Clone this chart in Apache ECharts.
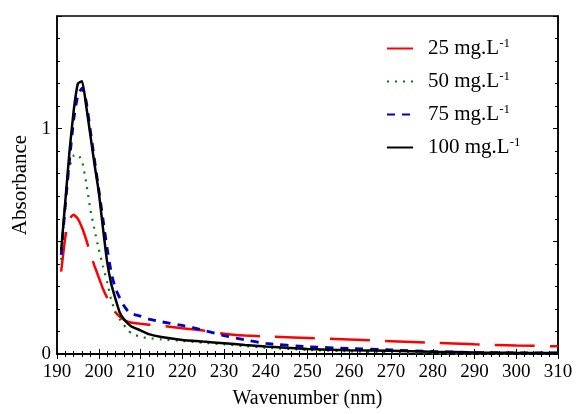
<!DOCTYPE html>
<html>
<head>
<meta charset="utf-8">
<script src="https://cdn.jsdelivr.net/npm/echarts@6/dist/echarts.min.js"></script>
<style>
  html, body { margin: 0; padding: 0; background: #fff; }
  #chart { width: 576px; height: 414px; }
</style>
</head>
<body>
<div id="chart"></div>
<script>
// wavelength grid (nm)
const wl = [191, 192, 193, 194, 195, 196, 197, 198, 199, 200, 201, 202, 203, 204, 205, 206, 207, 208, 210, 212, 215, 220, 225, 230, 235, 240, 250, 260, 270, 280, 290, 300, 310]

// absorbance per concentration (mg/L)
const abs25 = [0.366, 0.52, 0.60, 0.618, 0.60, 0.56, 0.507, 0.445, 0.39, 0.34, 0.29, 0.25, 0.215, 0.185, 0.166, 0.152, 0.143, 0.139, 0.134, 0.13, 0.125, 0.114, 0.104, 0.09, 0.082, 0.078, 0.071, 0.064, 0.057, 0.05, 0.043, 0.038, 0.034]
const abs50 = [0.418, 0.68, 0.83, 0.88, 0.885, 0.855, 0.76, 0.64, 0.55, 0.465, 0.39, 0.32, 0.24, 0.185, 0.155, 0.13, 0.105, 0.09, 0.076, 0.07, 0.065, 0.058, 0.05, 0.043, 0.035, 0.028, 0.018, 0.012, 0.007, 0.002, 0, 0, 0]
const abs75 = [0.44, 0.66, 0.86, 1.04, 1.15, 1.18, 1.12, 0.99, 0.86, 0.73, 0.6, 0.47, 0.36, 0.29, 0.25, 0.215, 0.19, 0.178, 0.168, 0.155, 0.143, 0.127, 0.106, 0.082, 0.063, 0.047, 0.032, 0.025, 0.018, 0.011, 0.007, 0.005, 0.005]
const abs100 = [0.46, 0.68, 0.9, 1.08, 1.2, 1.21, 1.1, 0.97, 0.84, 0.72, 0.56, 0.41, 0.31, 0.245, 0.185, 0.155, 0.135, 0.12, 0.105, 0.088, 0.075, 0.062, 0.055, 0.048, 0.04, 0.033, 0.022, 0.017, 0.014, 0.01, 0.007, 0.005, 0.004]

const names = ['25', '50', '75', '100']
const colors = ['#ff0000', '#008000', '#0000cc', '#000000']
const dashes = [[40, 15], [2, 6], [8, 7], 'solid']
const widths = [2.5, 2.2, 2.8, 2.5]
const values = [abs25, abs50, abs75, abs100]

const xTicks = [190, 200, 210, 220, 230, 240, 250, 260, 270, 280, 290, 300, 310]

let myChart = echarts.init(document.getElementById('chart'))

const font = 'Liberation Serif'

const series = names.map((n, i) => ({
  name: n,
  type: 'line',
  symbol: 'none',
  smooth: 0.15,
  data: wl.map((x, k) => [x, values[i][k]]),
  lineStyle: { color: colors[i], width: widths[i], type: dashes[i] },
  itemStyle: { color: colors[i] }
}))

const option = {
  backgroundColor: '#ffffff',
  animation: false,
  grid: {
    left: 57,
    right: 18,
    top: 16,
    bottom: 60,
    show: true,
    borderColor: '#000',
    borderWidth: 1.5
  },
  legend: {
    orient: 'vertical',
    left: 386,
    top: 37,
    padding: 0,
    itemWidth: 26,
    itemHeight: 12,
    itemGap: 11,
    data: names,
    itemStyle: { opacity: 0 },
    formatter: n => n + ' mg.L{s|-1}',
    textStyle: {
      fontFamily: font,
      fontSize: 21,
      color: '#000',
      padding: [0, 0, 0, 10],
      rich: { s: { fontFamily: font, fontSize: 13, color: '#000', verticalAlign: 'top', padding: [0, 0, 10, 0] } }
    }
  },
  xAxis: [{
    type: 'value',
    min: xTicks[0],
    max: xTicks[xTicks.length - 1],
    interval: 10,
    name: 'Wavenumber (nm)',
    nameLocation: 'middle',
    nameGap: 35,
    nameTextStyle: { fontFamily: font, fontSize: 20, color: '#000' },
    axisLine: { lineStyle: { color: '#000', width: 1.5 } },
    axisTick: { inside: true, length: 5, lineStyle: { color: '#000' } },
    minorTick: { show: true, splitNumber: 5, length: 3, lineStyle: { color: '#000' } },
    axisLabel: { fontFamily: font, fontSize: 19, color: '#000', margin: 9 },
    splitLine: { show: false }
  }, {
    type: 'value',
    position: 'top',
    min: xTicks[0],
    max: xTicks[xTicks.length - 1],
    interval: 10,
    axisLine: { lineStyle: { color: '#000', width: 1.5 } },
    axisTick: { inside: true, length: 5, lineStyle: { color: '#000' } },
    minorTick: { show: true, splitNumber: 5, length: 3, lineStyle: { color: '#000' } },
    axisLabel: { show: false },
    splitLine: { show: false }
  }],
  yAxis: [{
    type: 'value',
    min: 0,
    max: 1.5,
    interval: 0.5,
    name: 'Absorbance',
    nameLocation: 'middle',
    nameGap: 26,
    nameTextStyle: { fontFamily: font, fontSize: 21, color: '#000' },
    axisLine: { lineStyle: { color: '#000', width: 1.5 } },
    axisTick: { inside: true, length: 5, lineStyle: { color: '#000' } },
    minorTick: { show: true, splitNumber: 5, length: 3, lineStyle: { color: '#000' } },
    axisLabel: {
      fontFamily: font, fontSize: 19, color: '#000', margin: 6,
      formatter: v => (v === 0 || v === 1) ? String(v) : ''
    },
    splitLine: { show: false }
  }, {
    type: 'value',
    position: 'right',
    min: 0,
    max: 1.5,
    interval: 0.5,
    axisLine: { lineStyle: { color: '#000', width: 1.5 } },
    axisTick: { inside: true, length: 5, lineStyle: { color: '#000' } },
    minorTick: { show: true, splitNumber: 5, length: 3, lineStyle: { color: '#000' } },
    axisLabel: { show: false },
    splitLine: { show: false }
  }],
  series: series
}

myChart.setOption(option)
</script>
</body>
</html>
